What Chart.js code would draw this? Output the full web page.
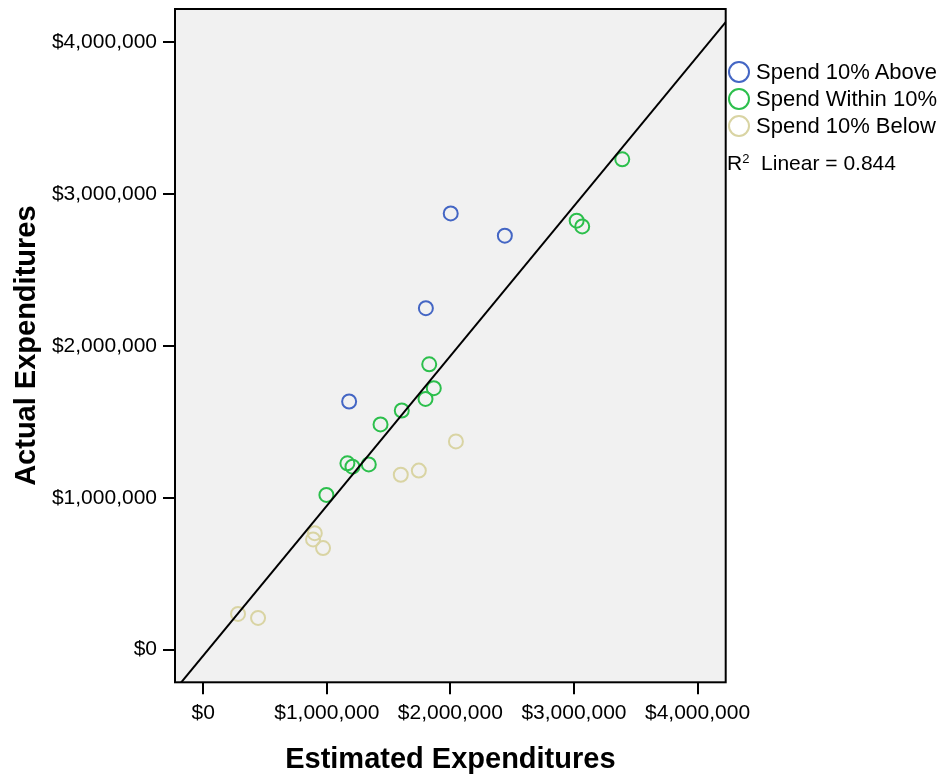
<!DOCTYPE html>
<html>
<head>
<meta charset="utf-8">
<script src="https://cdn.jsdelivr.net/npm/chart.js@4.4.1/dist/chart.umd.min.js"></script>
<style>
  html, body { margin: 0; padding: 0; background: #fff; }
  #wrap { position: relative; width: 939px; height: 777px; font-family: "Liberation Sans", Arial, sans-serif; color: #000; }
  .item { position: absolute; left: 728px; height: 24px; line-height: 24px; padding-left: 28px; font-size: 22px; white-space: nowrap; }
  .dot { position: absolute; left: 0; top: 1px; width: 22px; height: 22px; box-sizing: border-box; border: 2px solid; border-radius: 50%; }
  #rsq { position: absolute; left: 727px; top: 151px; height: 24px; line-height: 24px; font-size: 21px; white-space: nowrap; }
  #rsq sup { font-size: 13px; vertical-align: 7px; line-height: 0; }
</style>
</head>
<body>
<div id="wrap">
  <canvas id="scatter" width="939" height="777"></canvas>
</div>
<script>
// values
var aboveEstimated  = [2003000, 2441000, 1802000, 1181000];
var aboveActual     = [2873000, 2726000, 2249000, 1634000];
var withinEstimated = [3391000, 3022000, 3067000, 1829000, 1866000, 1799000, 1607000, 1435000, 1167000, 1208000, 1340000, 997000];
var withinActual    = [3229000, 2825000, 2787000, 1879000, 1722000, 1651000, 1575000, 1483000, 1227000, 1205000, 1220000, 1019000];
var belowEstimated  = [2045000, 1599000, 1745000, 903000, 889000, 970000, 282000, 444000];
var belowActual     = [1371000, 1152000, 1179000, 767000, 726000, 669000, 235000, 209000];

var seriesNames  = ["Spend 10% Above", "Spend Within 10%", "Spend 10% Below"];
var seriesColors = ["#4466c4", "#2cbf4c", "#d9d4a3"];
var tickValues   = [0, 1000000, 2000000, 3000000, 4000000];

var fitSlope = 0.987;
var fitIntercept = -40000;
var rSquared = 0.844;

var xMin = -228000, xMax = 4228000;
var yMin = -215000, yMax = 4219000;

function pairs(xs, ys) {
  return xs.map(function (x, i) { return { x: x, y: ys[i] }; });
}
function money(v) {
  return "$" + Number(v).toLocaleString("en-US");
}

// legend (html)
var wrap = document.getElementById("wrap");
var rowTops = [60, 87, 114];
seriesNames.forEach(function (name, i) {
  var d = document.createElement("div");
  d.className = "item";
  d.style.top = rowTops[i] + "px";
  d.innerHTML = '<span class="dot" style="border-color:' + seriesColors[i] + '"></span>' + name;
  wrap.appendChild(d);
});
var r = document.createElement("div");
r.id = "rsq";
r.innerHTML = "R<sup>2</sup>&nbsp; Linear = " + rSquared;
wrap.appendChild(r);

var plotFrame = {
  id: "plotFrame",
  beforeDraw: function (chart) {
    var a = chart.chartArea, ctx = chart.ctx;
    ctx.save();
    ctx.fillStyle = "#f1f1f1";
    ctx.fillRect(a.left, a.top, a.right - a.left, a.bottom - a.top);
    ctx.restore();
  },
  afterDraw: function (chart) {
    var a = chart.chartArea, ctx = chart.ctx;
    ctx.save();
    ctx.strokeStyle = "#000";
    ctx.lineWidth = 2;
    ctx.strokeRect(a.left, a.top, a.right - a.left, a.bottom - a.top);
    ctx.restore();
  }
};

function pointSet(label, data, color) {
  return {
    type: "scatter",
    label: label,
    data: data,
    borderColor: color,
    backgroundColor: "rgba(0,0,0,0)",
    pointRadius: 7,
    pointHoverRadius: 7,
    borderWidth: 2,
    pointStyle: "circle"
  };
}

var tickFont = { family: "'Liberation Sans', Arial, sans-serif", size: 21 };
var titleFont = { family: "'Liberation Sans', Arial, sans-serif", size: 29, weight: "bold" };

new Chart(document.getElementById("scatter"), {
  type: "scatter",
  data: {
    datasets: [
      {
        type: "line",
        label: "Linear fit",
        data: [{ x: xMin, y: fitIntercept + fitSlope * xMin }, { x: xMax, y: fitIntercept + fitSlope * xMax }],
        borderColor: "#000",
        borderWidth: 2,
        pointRadius: 0,
        fill: false
      },
      pointSet(seriesNames[0], pairs(aboveEstimated, aboveActual), seriesColors[0]),
      pointSet(seriesNames[1], pairs(withinEstimated, withinActual), seriesColors[1]),
      pointSet(seriesNames[2], pairs(belowEstimated, belowActual), seriesColors[2])
    ]
  },
  options: {
    responsive: false,
    animation: false,
    devicePixelRatio: 1,
    layout: { padding: { top: 7, right: 213.3, bottom: 0, left: 0 } },
    plugins: { legend: { display: false }, tooltip: { enabled: false } },
    scales: {
      x: {
        type: "linear",
        min: xMin,
        max: xMax,
        afterBuildTicks: function (s) { s.ticks = tickValues.map(function (v) { return { value: v }; }); },
        afterFit: function (s) { s.height = 94.7; s.paddingLeft = 0; s.paddingRight = 0; },
        border: { display: false },
        grid: { drawOnChartArea: false, drawTicks: true, tickLength: 12, color: "#000", lineWidth: 2 },
        ticks: { font: tickFont, color: "#000", padding: 6, maxRotation: 0, autoSkip: false, callback: money },
        title: { display: true, text: "Estimated Expenditures", font: titleFont, color: "#000", padding: { top: 3, bottom: 0 } }
      },
      y: {
        type: "linear",
        min: yMin,
        max: yMax,
        afterBuildTicks: function (s) { s.ticks = tickValues.map(function (v) { return { value: v }; }); },
        afterFit: function (s) { s.width = 175; s.paddingTop = 0; s.paddingBottom = 0; },
        border: { display: false },
        grid: { drawOnChartArea: false, drawTicks: true, tickLength: 12, color: "#000", lineWidth: 2 },
        ticks: { font: tickFont, color: "#000", padding: 6, autoSkip: false, callback: money },
        title: { display: true, text: "Actual Expenditures", font: titleFont, color: "#000", padding: { top: 10, bottom: 0 } }
      }
    }
  },
  plugins: [plotFrame]
});
</script>
</body>
</html>
